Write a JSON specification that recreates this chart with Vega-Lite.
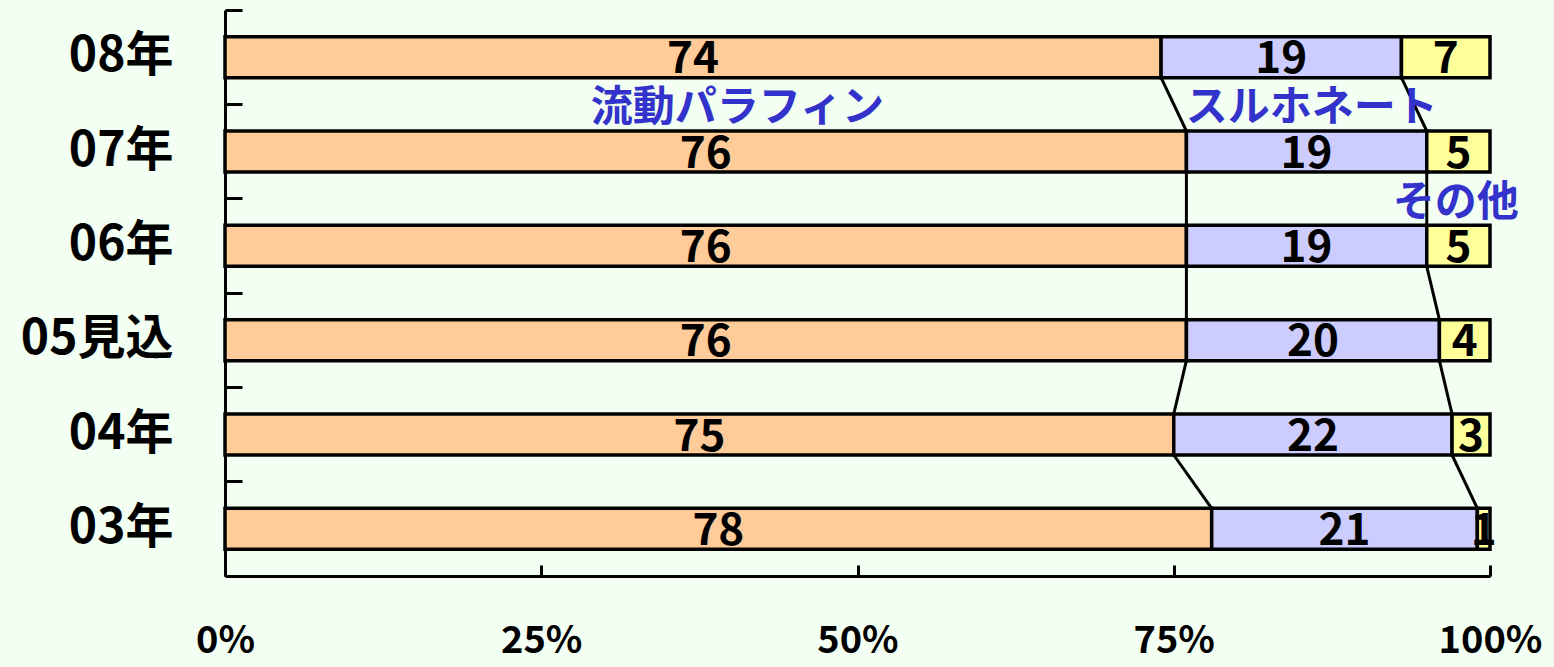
{
  "$schema": "https://vega.github.io/schema/vega-lite/v6.json",
  "width": 1265,
  "height": 566,
  "autosize": "none",
  "padding": {"left": 225, "top": 10, "right": 64, "bottom": 91},
  "background": "#F2FFF2",
  "config": {"view": {"stroke": null}, "font": "Noto Sans CJK JP"},
  "datasets": {
    "shares": [
      {"year": "08年", "series": "流動パラフィン", "share": 74},
      {"year": "08年", "series": "スルホネート", "share": 19},
      {"year": "08年", "series": "その他", "share": 7},
      {"year": "07年", "series": "流動パラフィン", "share": 76},
      {"year": "07年", "series": "スルホネート", "share": 19},
      {"year": "07年", "series": "その他", "share": 5},
      {"year": "06年", "series": "流動パラフィン", "share": 76},
      {"year": "06年", "series": "スルホネート", "share": 19},
      {"year": "06年", "series": "その他", "share": 5},
      {"year": "05見込", "series": "流動パラフィン", "share": 76},
      {"year": "05見込", "series": "スルホネート", "share": 20},
      {"year": "05見込", "series": "その他", "share": 4},
      {"year": "04年", "series": "流動パラフィン", "share": 75},
      {"year": "04年", "series": "スルホネート", "share": 22},
      {"year": "04年", "series": "その他", "share": 3},
      {"year": "03年", "series": "流動パラフィン", "share": 78},
      {"year": "03年", "series": "スルホネート", "share": 21},
      {"year": "03年", "series": "その他", "share": 1}
    ],
    "links": [
      {"from": "08年", "to": "07年", "a": 74, "b": 76},
      {"from": "08年", "to": "07年", "a": 93, "b": 95},
      {"from": "07年", "to": "06年", "a": 76, "b": 76},
      {"from": "07年", "to": "06年", "a": 95, "b": 95},
      {"from": "06年", "to": "05見込", "a": 76, "b": 76},
      {"from": "06年", "to": "05見込", "a": 95, "b": 96},
      {"from": "05見込", "to": "04年", "a": 76, "b": 75},
      {"from": "05見込", "to": "04年", "a": 96, "b": 97},
      {"from": "04年", "to": "03年", "a": 75, "b": 78},
      {"from": "04年", "to": "03年", "a": 97, "b": 99}
    ],
    "names": [
      {"series": "流動パラフィン", "at": 40.5, "row": "07年"},
      {"series": "スルホネート", "at": 85.9, "row": "07年"},
      {"series": "その他", "at": 97.3, "row": "06年"}
    ]
  },
  "layer": [
    {
      "data": {"name": "shares"},
      "mark": {"type": "bar", "size": 41, "stroke": "black", "strokeWidth": 3.5},
      "encoding": {
        "y": {
          "field": "year",
          "type": "nominal",
          "scale": {"domain": ["08年", "07年", "06年", "05見込", "04年", "03年"], "paddingInner": 0, "paddingOuter": 0},
          "axis": {
            "title": null,
            "domainColor": "black",
            "domainWidth": 3,
            "tickColor": "black",
            "tickWidth": 3,
            "tickSize": -17,
            "bandPosition": 0,
            "labelFont": "Noto Sans CJK JP",
            "labelFontSize": 48,
            "labelFontWeight": "bold",
            "labelColor": "black",
            "labelPadding": 69,
            "grid": false
          }
        },
        "x": {
          "field": "share",
          "type": "quantitative",
          "stack": "zero",
          "scale": {"domain": [0, 100], "nice": false},
          "axis": {
            "title": null,
            "values": [0, 25, 50, 75, 100],
            "labelExpr": "datum.value + '%'",
            "domainColor": "black",
            "domainWidth": 3,
            "tickColor": "black",
            "tickWidth": 3,
            "tickSize": -11,
            "labelFont": "Noto Sans CJK JP",
            "labelFontSize": 38,
            "labelFontWeight": "bold",
            "labelColor": "black",
            "labelPadding": 57,
            "labelFlush": false,
            "grid": false
          }
        },
        "color": {
          "field": "series",
          "type": "nominal",
          "scale": {"domain": ["流動パラフィン", "スルホネート", "その他"], "range": ["#FFCC99", "#CCCCFF", "#FFFF99"]},
          "legend": null
        },
        "order": {"field": "series", "sort": "descending"}
      }
    },
    {
      "data": {"name": "shares"},
      "mark": {"type": "text", "fontSize": 44, "fontWeight": "bold", "baseline": "alphabetic", "dy": 16, "color": "black"},
      "encoding": {
        "y": {"field": "year", "type": "nominal"},
        "x": {"field": "share", "type": "quantitative", "stack": "zero", "bandPosition": 0.5},
        "detail": {"field": "series"},
        "order": {"field": "series", "sort": "descending"},
        "text": {"field": "share", "type": "quantitative"}
      }
    },
    {
      "data": {"name": "links"},
      "mark": {"type": "rule", "color": "black", "strokeWidth": 3, "yOffset": 20.5, "y2Offset": -20.5},
      "encoding": {
        "y": {"field": "from", "type": "nominal"},
        "y2": {"field": "to"},
        "x": {"field": "a", "type": "quantitative"},
        "x2": {"field": "b"}
      }
    },
    {
      "data": {"name": "names"},
      "mark": {"type": "text", "fontSize": 42, "fontWeight": "bold", "baseline": "middle", "dy": 4, "color": "#3333CC"},
      "encoding": {
        "y": {"field": "row", "type": "nominal", "bandPosition": 0},
        "x": {"field": "at", "type": "quantitative"},
        "text": {"field": "series"}
      }
    }
  ]
}
